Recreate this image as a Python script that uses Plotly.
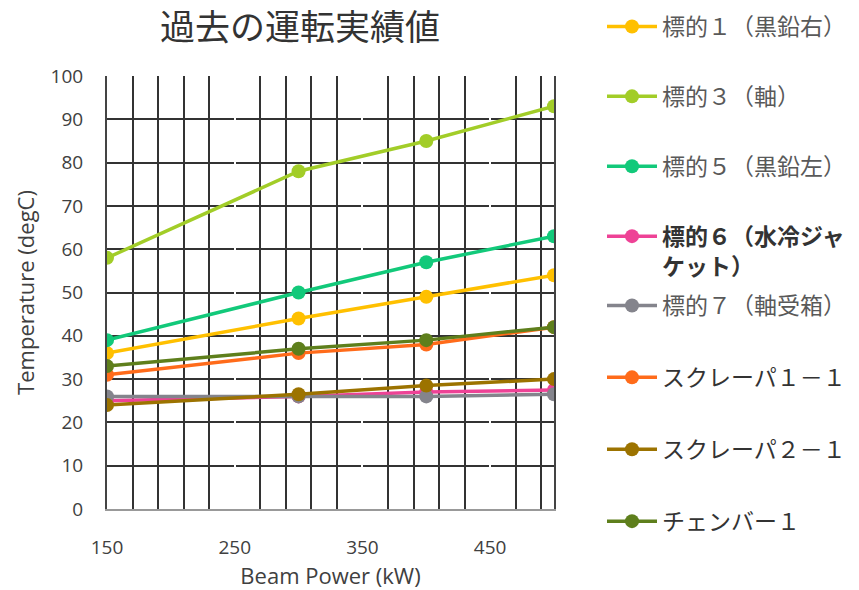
import plotly.graph_objects as go

beam_power = [150, 300, 400, 500]

series_names = [
    "標的１（黒鉛右）",
    "標的３（軸）",
    "標的５（黒鉛左）",
    "<b>標的６（水冷ジャ<br>ケット）</b>",
    "標的７（軸受箱）",
    "スクレーパ１－１",
    "スクレーパ２－１",
    "チェンバー１",
]
target1 = [36, 44, 49, 54]
target3 = [58, 78, 85, 93]
target5 = [39, 50, 57, 63]
target6 = [25, 26, 27, 27.5]
target7 = [26, 26, 26, 26.5]
scraper11 = [31, 36, 38, 42]
scraper21 = [24, 26.5, 28.5, 30]
chamber1 = [33, 37, 39, 42]
series_values = [target1, target3, target5, target6, target7, scraper11, scraper21, chamber1]

colors = ["#FFC000", "#A2CD28", "#12C97A", "#EE4296", "#84848C", "#FF6B1A", "#9C7300", "#5E7F1C"]
text_colors = ["#595959", "#595959", "#595959", "#333333", "#595959", "#333333", "#333333", "#333333"]
legend_ids = ["legend"] * 4 + ["legend2"] * 4

x_ticks = [150, 250, 350, 450]
y_ticks = [0, 10, 20, 30, 40, 50, 60, 70, 80, 90, 100]

fig = go.Figure()
for i, (name, vals) in enumerate(zip(series_names, series_values)):
    fig.add_trace(go.Scatter(
        x=beam_power, y=vals, mode="lines+markers",
        name=f'<span style="color:{text_colors[i]}">{name}</span>',
        line=dict(color=colors[i], width=3.5),
        marker=dict(color=colors[i], size=14),
        legend=legend_ids[i], legendgroup=f"g{i}",
    ))

font_family = "Open Sans, Lato, sans-serif"
cjk = "Noto Sans CJK JP"

legend_common = dict(
    xref="container", yref="container", xanchor="left", yanchor="top",
    font=dict(family=cjk, size=23, color="#333333"),
    traceorder="grouped", itemwidth=50,
    bgcolor="rgba(0,0,0,0)", borderwidth=0, valign="top",
)

fig.update_layout(
    width=859, height=590,
    margin=dict(l=107, r=305, t=76, b=81),
    paper_bgcolor="white", plot_bgcolor="white",
    title=dict(text="過去の運転実績値", font=dict(family=cjk, size=35, color="#333333"),
               xref="container", x=300 / 859, xanchor="center",
               yref="container", y=1 - 28 / 590, yanchor="middle"),
    xaxis=dict(
        range=[150, 500], tickmode="array", tickvals=x_ticks,
        showgrid=True, gridcolor="white", gridwidth=2,
        minor=dict(tick0=150, dtick=20, showgrid=True, gridcolor="#333333", gridwidth=2),
        showline=True, linecolor="#999999", linewidth=2, mirror=False,
        zeroline=False, ticks="",
        tickfont=dict(family=font_family, size=19, color="#404040"),
        ticklabelstandoff=20,
        title=dict(text="Beam Power (kW)", font=dict(family=font_family, size=22, color="#404040"), standoff=10),
        automargin=False,
    ),
    yaxis=dict(
        range=[0, 100], tickmode="array", tickvals=y_ticks,
        showgrid=False,
        minor=dict(tick0=0.001, dtick=10, showgrid=True, gridcolor="#333333", gridwidth=2),
        showline=True, linecolor="#444444", linewidth=2, mirror=True,
        zeroline=False, ticks="",
        tickfont=dict(family=font_family, size=19, color="#404040"),
        ticklabelstandoff=18,
        title=dict(text="Temperature (degC)", font=dict(family=font_family, size=22, color="#404040"), standoff=10),
        automargin=False,
    ),
    legend=dict(x=602 / 859, y=1 - 5 / 590, tracegroupgap=37, **legend_common),
    legend2=dict(x=602 / 859, y=1 - 284 / 590, tracegroupgap=39, **legend_common),
)

fig.write_html("out.html")
